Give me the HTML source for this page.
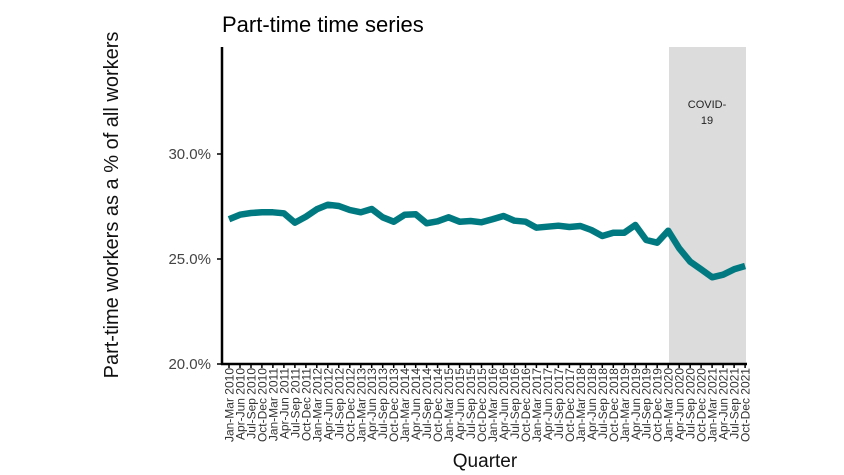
<!DOCTYPE html>
<html><head><meta charset="utf-8"><style>
html,body{margin:0;padding:0;background:#fff;}
svg{display:block;font-family:"Liberation Sans",Arial,sans-serif;}
</style></head><body>
<svg width="844" height="475" viewBox="0 0 844 475">
<rect x="669" y="47" width="77" height="317" fill="#dcdcdc"/>
<text x="707" y="108" font-size="11" text-anchor="middle" fill="#222">COVID-</text>
<text x="707" y="124" font-size="11" text-anchor="middle" fill="#222">19</text>
<text x="222" y="32" font-size="22" fill="#000">Part-time time series</text>
<text transform="translate(118,205) rotate(-90)" font-size="20" text-anchor="middle" fill="#111">Part-time workers as a % of all workers</text>
<text x="485" y="467" font-size="19" text-anchor="middle" fill="#111">Quarter</text>
<g font-size="15" fill="#444" text-anchor="end">
<text x="211" y="159">30.0%</text><text x="211" y="264">25.0%</text><text x="211" y="369">20.0%</text>
</g>
<g stroke="#000" stroke-width="1.5">
<line x1="217" y1="154" x2="222" y2="154"/><line x1="217" y1="259" x2="222" y2="259"/><line x1="217" y1="364" x2="222" y2="364"/>
</g>
<line x1="222" y1="47" x2="222" y2="365" stroke="#000" stroke-width="2.5"/>
<line x1="221" y1="364" x2="747" y2="364" stroke="#000" stroke-width="2.5"/>
<polyline fill="none" stroke="#007a80" stroke-width="6.5" stroke-linejoin="round" points="229,219.3 240,214.7 251,213 261.9,212.3 272.9,212.3 283.9,213.3 294.9,222.7 305.9,216.7 316.8,209.3 327.8,204.7 338.8,206 349.8,210 360.8,212.3 371.7,209 382.7,217.3 393.7,221.7 404.7,214.7 415.7,214.3 426.6,223.3 437.6,221.3 448.6,217.3 459.6,221.7 470.6,221 481.5,222.3 492.5,219.3 503.5,216 514.5,220.7 525.5,221.7 536.4,227.7 547.4,226.7 558.4,225.7 569.4,227 580.4,226 591.3,230 602.3,236 613.3,232.7 624.3,232.7 635.3,225 646.2,240 657.2,242.7 668.2,230.7 679.2,248.3 690.2,261.7 701.1,269.3 712.1,277.3 723.1,274.7 734.1,269.3 745.1,266"/>
<g font-size="12" fill="#333" text-anchor="end">
<text transform="translate(233.5,368) rotate(-90)">Jan-Mar 2010</text>
<text transform="translate(244.5,368) rotate(-90)">Apr-Jun 2010</text>
<text transform="translate(255.5,368) rotate(-90)">Jul-Sep 2010</text>
<text transform="translate(266.4,368) rotate(-90)">Oct-Dec 2010</text>
<text transform="translate(277.4,368) rotate(-90)">Jan-Mar 2011</text>
<text transform="translate(288.4,368) rotate(-90)">Apr-Jun 2011</text>
<text transform="translate(299.4,368) rotate(-90)">Jul-Sep 2011</text>
<text transform="translate(310.4,368) rotate(-90)">Oct-Dec 2011</text>
<text transform="translate(321.3,368) rotate(-90)">Jan-Mar 2012</text>
<text transform="translate(332.3,368) rotate(-90)">Apr-Jun 2012</text>
<text transform="translate(343.3,368) rotate(-90)">Jul-Sep 2012</text>
<text transform="translate(354.3,368) rotate(-90)">Oct-Dec 2012</text>
<text transform="translate(365.3,368) rotate(-90)">Jan-Mar 2013</text>
<text transform="translate(376.2,368) rotate(-90)">Apr-Jun 2013</text>
<text transform="translate(387.2,368) rotate(-90)">Jul-Sep 2013</text>
<text transform="translate(398.2,368) rotate(-90)">Oct-Dec 2013</text>
<text transform="translate(409.2,368) rotate(-90)">Jan-Mar 2014</text>
<text transform="translate(420.2,368) rotate(-90)">Apr-Jun 2014</text>
<text transform="translate(431.1,368) rotate(-90)">Jul-Sep 2014</text>
<text transform="translate(442.1,368) rotate(-90)">Oct-Dec 2014</text>
<text transform="translate(453.1,368) rotate(-90)">Jan-Mar 2015</text>
<text transform="translate(464.1,368) rotate(-90)">Apr-Jun 2015</text>
<text transform="translate(475.1,368) rotate(-90)">Jul-Sep 2015</text>
<text transform="translate(486,368) rotate(-90)">Oct-Dec 2015</text>
<text transform="translate(497,368) rotate(-90)">Jan-Mar 2016</text>
<text transform="translate(508,368) rotate(-90)">Apr-Jun 2016</text>
<text transform="translate(519,368) rotate(-90)">Jul-Sep 2016</text>
<text transform="translate(530,368) rotate(-90)">Oct-Dec 2016</text>
<text transform="translate(540.9,368) rotate(-90)">Jan-Mar 2017</text>
<text transform="translate(551.9,368) rotate(-90)">Apr-Jun 2017</text>
<text transform="translate(562.9,368) rotate(-90)">Jul-Sep 2017</text>
<text transform="translate(573.9,368) rotate(-90)">Oct-Dec 2017</text>
<text transform="translate(584.9,368) rotate(-90)">Jan-Mar 2018</text>
<text transform="translate(595.8,368) rotate(-90)">Apr-Jun 2018</text>
<text transform="translate(606.8,368) rotate(-90)">Jul-Sep 2018</text>
<text transform="translate(617.8,368) rotate(-90)">Oct-Dec 2018</text>
<text transform="translate(628.8,368) rotate(-90)">Jan-Mar 2019</text>
<text transform="translate(639.8,368) rotate(-90)">Apr-Jun 2019</text>
<text transform="translate(650.7,368) rotate(-90)">Jul-Sep 2019</text>
<text transform="translate(661.7,368) rotate(-90)">Oct-Dec 2019</text>
<text transform="translate(672.7,368) rotate(-90)">Jan-Mar 2020</text>
<text transform="translate(683.7,368) rotate(-90)">Apr-Jun 2020</text>
<text transform="translate(694.7,368) rotate(-90)">Jul-Sep 2020</text>
<text transform="translate(705.6,368) rotate(-90)">Oct-Dec 2020</text>
<text transform="translate(716.6,368) rotate(-90)">Jan-Mar 2021</text>
<text transform="translate(727.6,368) rotate(-90)">Apr-Jun 2021</text>
<text transform="translate(738.6,368) rotate(-90)">Jul-Sep 2021</text>
<text transform="translate(749.6,368) rotate(-90)">Oct-Dec 2021</text>
</g>
<g stroke="#000" stroke-width="1.5">
<path d="M229,364v4M240,364v4M251,364v4M261.9,364v4M272.9,364v4M283.9,364v4M294.9,364v4M305.9,364v4M316.8,364v4M327.8,364v4M338.8,364v4M349.8,364v4M360.8,364v4M371.7,364v4M382.7,364v4M393.7,364v4M404.7,364v4M415.7,364v4M426.6,364v4M437.6,364v4M448.6,364v4M459.6,364v4M470.6,364v4M481.5,364v4M492.5,364v4M503.5,364v4M514.5,364v4M525.5,364v4M536.4,364v4M547.4,364v4M558.4,364v4M569.4,364v4M580.4,364v4M591.3,364v4M602.3,364v4M613.3,364v4M624.3,364v4M635.3,364v4M646.2,364v4M657.2,364v4M668.2,364v4M679.2,364v4M690.2,364v4M701.1,364v4M712.1,364v4M723.1,364v4M734.1,364v4M745.1,364v4"/>
</g>
</svg>
</body></html>
